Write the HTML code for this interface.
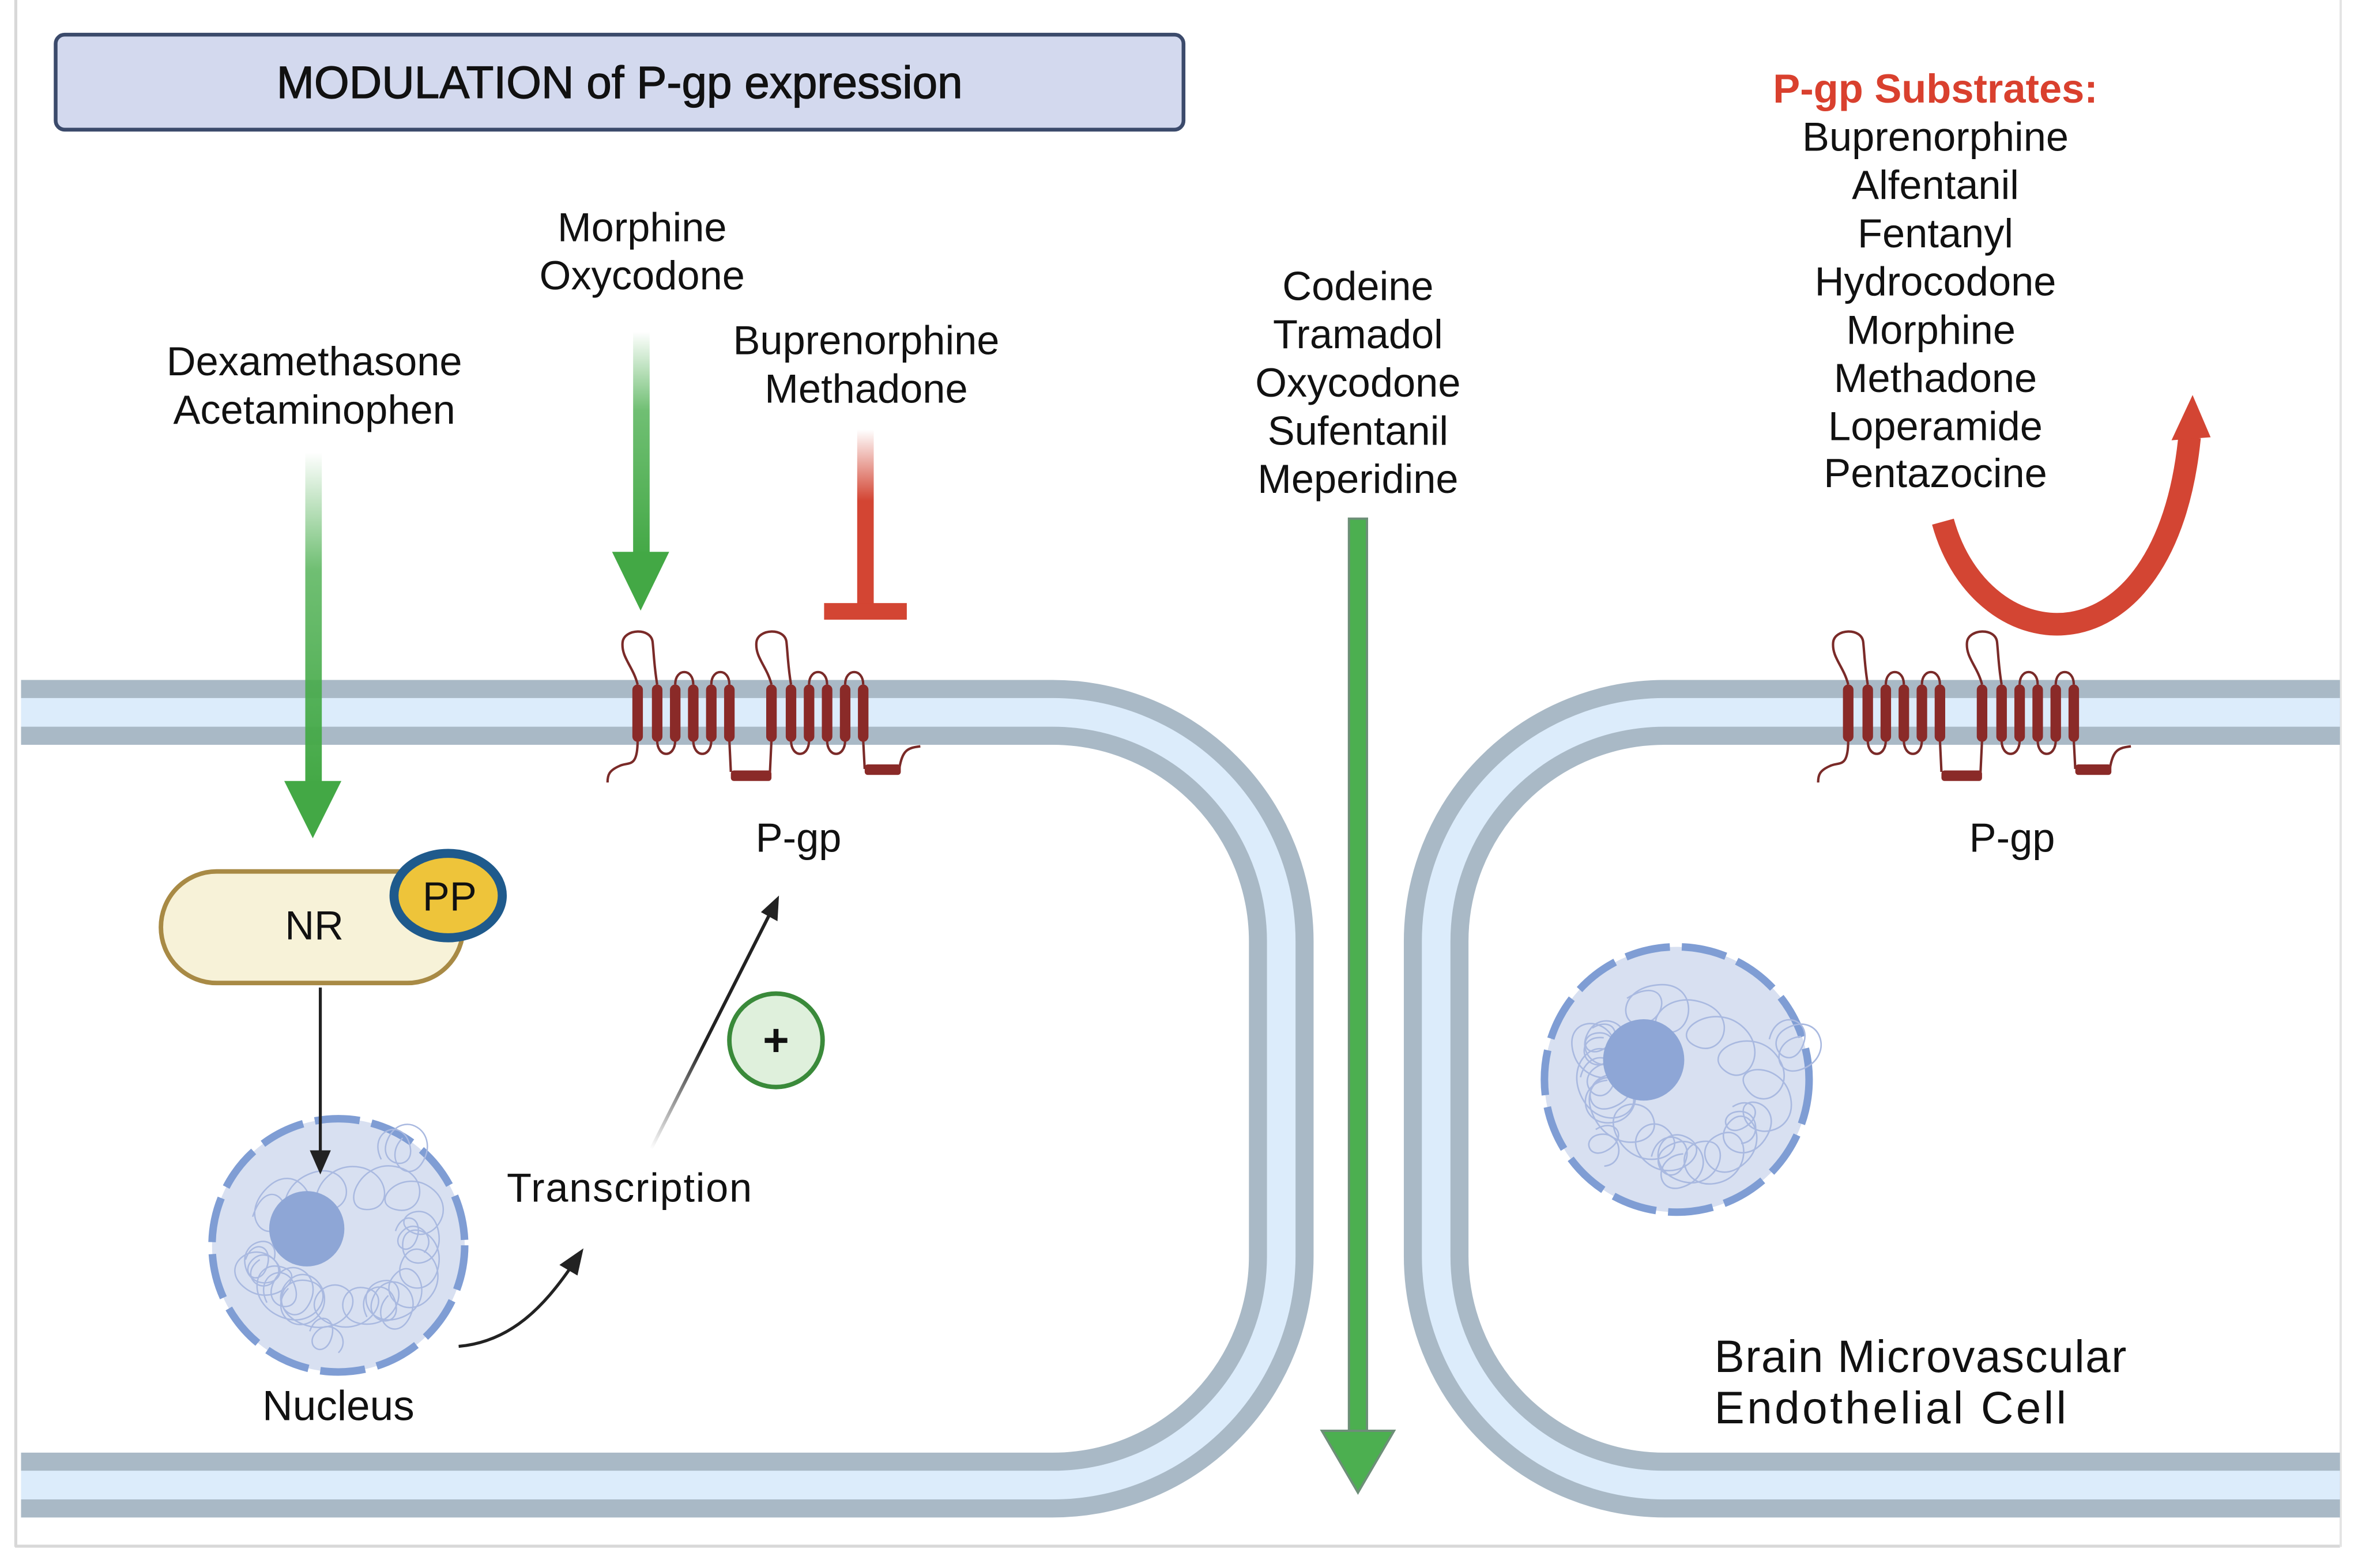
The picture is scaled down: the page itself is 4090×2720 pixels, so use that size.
<!DOCTYPE html>
<html><head><meta charset="utf-8"><style>
html,body{margin:0;padding:0;background:#fff}
svg{display:block}
text{font-family:"Liberation Sans",sans-serif;fill:#111}
</style></head><body>
<svg width="4090" height="2720" viewBox="0 0 1568 1040" preserveAspectRatio="none" xmlns="http://www.w3.org/2000/svg">
<defs>
<linearGradient id="gfade" x1="0" y1="0" x2="0" y2="1">
<stop offset="0" stop-color="#4caf50" stop-opacity="0"/><stop offset="0.35" stop-color="#4caf50" stop-opacity="0.8"/><stop offset="1" stop-color="#43a845"/></linearGradient>
<linearGradient id="rfade" x1="0" y1="0" x2="0" y2="1">
<stop offset="0" stop-color="#d34533" stop-opacity="0"/><stop offset="0.4" stop-color="#d34533"/><stop offset="1" stop-color="#d34533"/></linearGradient>
<linearGradient id="kfade" x1="433" y1="762" x2="518" y2="594" gradientUnits="userSpaceOnUse">
<stop offset="0" stop-color="#222" stop-opacity="0"/><stop offset="0.4" stop-color="#222"/><stop offset="1" stop-color="#222"/></linearGradient>
<g id="pgp">
<g fill="none" stroke="#7a2a28" stroke-width="1.6">
<path d="M424,454 C421,442 413,436 414,426 C415,417 433,416 434,426 C435,436 435,442 437,454"/>
<path d="M449,454 C449,443 461,443 461,454"/>
<path d="M473,454 C473,443 485,443 485,454"/>
<path d="M437,491 C437,503 449,503 449,491"/>
<path d="M461,491 C461,503 473,503 473,491"/>
<path d="M485,491 L486,512 M513,491 L512,512"/>
<path d="M424,491 C424,510 418,505 412,508 C405,511 404,514 404,519"/>
<path d="M513,454 C510,442 502,436 503,426 C504,417 522,416 523,426 C524,436 524,442 526,454"/>
<path d="M538,454 C538,443 550,443 550,454"/>
<path d="M562,454 C562,443 574,443 574,454"/>
<path d="M526,491 C526,503 538,503 538,491"/>
<path d="M550,491 C550,503 562,503 562,491"/>
<path d="M574,491 L575,510 M598,510 C600,497 604,496 612,495"/>
</g>
<g fill="#8a2a28">
<rect x="420.5" y="454" width="7" height="38" rx="3.5"/><rect x="433.5" y="454" width="7" height="38" rx="3.5"/>
<rect x="445.5" y="454" width="7" height="38" rx="3.5"/><rect x="457.5" y="454" width="7" height="38" rx="3.5"/>
<rect x="469.5" y="454" width="7" height="38" rx="3.5"/><rect x="481.5" y="454" width="7" height="38" rx="3.5"/>
<rect x="509.5" y="454" width="7" height="38" rx="3.5"/><rect x="522.5" y="454" width="7" height="38" rx="3.5"/>
<rect x="534.5" y="454" width="7" height="38" rx="3.5"/><rect x="546.5" y="454" width="7" height="38" rx="3.5"/>
<rect x="558.5" y="454" width="7" height="38" rx="3.5"/><rect x="570.5" y="454" width="7" height="38" rx="3.5"/>
<rect x="486" y="511" width="27" height="7" rx="2"/>
<rect x="575" y="507" width="24" height="7" rx="2"/>
</g>
</g>
<g id="chrom" fill="none" stroke="#a9b9e0" stroke-width="1">
<path d="M-60,-20 c10,-30 30,-10 20,5 c-10,15 -30,-5 -10,-25 c20,-20 40,10 25,20 c-15,10 -20,-20 5,-30 c25,-10 35,20 15,25 c-20,5 -10,-30 15,-30 c25,0 30,30 10,30 c-20,0 -5,-35 20,-30 c25,5 20,35 0,30 c-20,-5 5,-30 25,-15 c20,15 0,40 -15,30 c-15,-10 15,-25 20,0 c5,25 -25,30 -25,10 c0,-20 30,-10 25,15 c-5,25 -35,15 -25,-5 c10,-20 35,5 20,25 c-15,20 -40,0 -25,-15 c15,-15 30,20 5,30 c-25,10 -35,-20 -15,-25 c20,-5 15,30 -10,30 c-25,0 -20,-30 0,-25 c20,5 0,35 -25,25 c-25,-10 -5,-35 10,-25 c15,10 -5,35 -30,25 c-25,-10 -15,-35 5,-30 c20,5 5,35 -20,25 c-25,-10 -20,-40 0,-35 c20,5 -5,30 -25,15 c-20,-15 5,-35 20,-20 c15,15 -15,25 -20,5 c-5,-20 25,-25 20,-5"/>
<path d="M-50,40 c-10,-20 15,-30 20,-10 c5,20 -25,15 -15,-5 c10,-20 35,-5 25,15 c-10,20 -30,0 -15,-15 c15,-15 35,10 20,25 c-15,15 -35,-5 -20,-20 M20,50 c-10,-20 15,-30 20,-10 c5,20 -25,15 -15,-5 c10,-20 35,-5 25,15 c-10,20 -30,0 -15,-15 M30,-60 c-10,-20 15,-30 20,-10 c5,20 -25,15 -15,-5 c10,-20 35,-5 25,15 c-10,20 -30,0 -15,-15"/>
<path d="M-65,10 c5,-15 20,-10 15,5 c-5,15 -20,5 -10,-5 c10,-10 25,5 15,15 c-10,10 -25,-5 -10,-15 M40,-10 c5,-15 20,-10 15,5 c-5,15 -20,5 -10,-5 c10,-10 25,5 15,15 M-20,60 c5,-15 20,-10 15,5 c-5,15 -20,5 -10,-5 c10,-10 25,5 15,15"/>
</g>
</defs>

<rect x="0" y="0" width="1568" height="1040" fill="#fff"/>
<line x1="10.5" y1="0" x2="10.5" y2="1026" stroke="#d8d8d8" stroke-width="2"/>
<line x1="10" y1="1025.5" x2="1556" y2="1025.5" stroke="#d8d8d8" stroke-width="2"/>
<line x1="1556.5" y1="0" x2="1556.5" y2="1026" stroke="#e4e4e4" stroke-width="1.5"/>

<g fill="none">
<path d="M14,472.5 H700 A152,152 0 0 1 852,624.5 V833 A152,152 0 0 1 700,985 H14" stroke="#a9b9c6" stroke-width="43"/>
<path d="M14,472.5 H700 A152,152 0 0 1 852,624.5 V833 A152,152 0 0 1 700,985 H14" stroke="#dcecfb" stroke-width="19"/>
<path d="M1556,472.5 H1107 A152,152 0 0 0 955,624.5 V833 A152,152 0 0 0 1107,985 H1556" stroke="#a9b9c6" stroke-width="43"/>
<path d="M1556,472.5 H1107 A152,152 0 0 0 955,624.5 V833 A152,152 0 0 0 1107,985 H1556" stroke="#dcecfb" stroke-width="19"/>
</g>

<rect x="37" y="23" width="750" height="63" rx="6" fill="#d3d9ee" stroke="#3b4a6b" stroke-width="2.5"/>
<text x="412" y="65" font-size="30" text-anchor="middle" fill="#111" stroke="#111" stroke-width="0.5">MODULATION of P-gp expression</text>

<g font-size="27" text-anchor="middle">
<text x="209" y="249">Dexamethasone</text><text x="209" y="281">Acetaminophen</text>
<text x="427" y="160">Morphine</text><text x="427" y="192">Oxycodone</text>
<text x="576" y="235">Buprenorphine</text><text x="576" y="267">Methadone</text>
<text x="903" y="199">Codeine</text><text x="903" y="231">Tramadol</text><text x="903" y="263">Oxycodone</text><text x="903" y="295">Sufentanil</text><text x="903" y="327">Meperidine</text>
<text x="1287" y="68" font-weight="bold" style="fill:#d9402e">P-gp Substrates:</text>
<text x="1287" y="100">Buprenorphine</text><text x="1287" y="132">Alfentanil</text><text x="1287" y="164">Fentanyl</text><text x="1287" y="196">Hydrocodone</text><text x="1284" y="228">Morphine</text><text x="1287" y="260">Methadone</text><text x="1287" y="292">Loperamide</text><text x="1287" y="323">Pentazocine</text>
<text x="531" y="565">P-gp</text><text x="1338" y="565">P-gp</text>
<text x="225" y="942" font-size="28">Nucleus</text>
</g>
<text x="337" y="797" font-size="27" textLength="163">Transcription</text>
<text x="1140" y="910" font-size="30" textLength="274">Brain  Microvascular</text>
<text x="1140" y="944" font-size="30" textLength="234">Endothelial Cell</text>

<rect x="203" y="300" width="11" height="222" fill="url(#gfade)"/>
<polygon points="189,518 227,518 208,556" fill="#43a845"/>
<rect x="421" y="220" width="11" height="150" fill="url(#gfade)"/>
<polygon points="407,366 445,366 426,405" fill="#43a845"/>
<rect x="570" y="285" width="11" height="118" fill="url(#rfade)"/>
<rect x="548" y="400" width="55" height="11" fill="#d34533"/>
<rect x="897" y="344" width="12" height="606" fill="#4caf50" stroke="#6d8f78" stroke-width="1.5"/>
<polygon points="879,949 927,949 903,990" fill="#4caf50" stroke="#6d8f78" stroke-width="1.5"/>

<path d="M1292,346 C1318,440 1440,450 1456,290" fill="none" stroke="#d34533" stroke-width="15"/>
<polygon points="1458,262 1444,292 1470,290" fill="#d34533"/>

<use href="#pgp"/>
<use href="#pgp" transform="translate(805,0)"/>

<rect x="107" y="578" width="201" height="74" rx="37" fill="#f7f2d8" stroke="#a88a45" stroke-width="3"/>
<text x="209" y="623" font-size="27" text-anchor="middle">NR</text>
<ellipse cx="298" cy="594" rx="36" ry="28" fill="#eec43a" stroke="#1f5a8c" stroke-width="6"/>
<text x="299" y="604" font-size="27" text-anchor="middle">PP</text>

<circle cx="225" cy="826" r="84" fill="#d8e0f1" stroke="#7f9dd4" stroke-width="5" stroke-dasharray="30 8"/>
<use href="#chrom" transform="translate(225,826) scale(0.95)"/>
<circle cx="204" cy="815" r="25" fill="#8ea6d6"/>
<circle cx="1115" cy="716" r="88" fill="#d8e0f1" stroke="#7f9dd4" stroke-width="5" stroke-dasharray="30 8"/>
<use href="#chrom" transform="translate(1115,716) rotate(40) scale(1)"/>
<circle cx="1093" cy="703" r="27" fill="#8ea6d6"/>

<line x1="213" y1="655" x2="213" y2="765" stroke="#222" stroke-width="2"/>
<polygon points="206,763 220,763 213,779" fill="#222"/>
<path d="M305,893 C340,890 362,866 380,840" fill="none" stroke="#222" stroke-width="2"/>
<polygon points="388,828 372,839 384,846" fill="#222"/>
<line x1="433" y1="762" x2="513" y2="604" stroke="url(#kfade)" stroke-width="2.2"/>
<polygon points="518,594 506,605 517,611" fill="#222"/>
<circle cx="516" cy="690" r="31" fill="#dff0dc" stroke="#3a8a3a" stroke-width="3"/>
<text x="516" y="700" font-size="30" text-anchor="middle" font-weight="bold">+</text>
</svg>
</body></html>
